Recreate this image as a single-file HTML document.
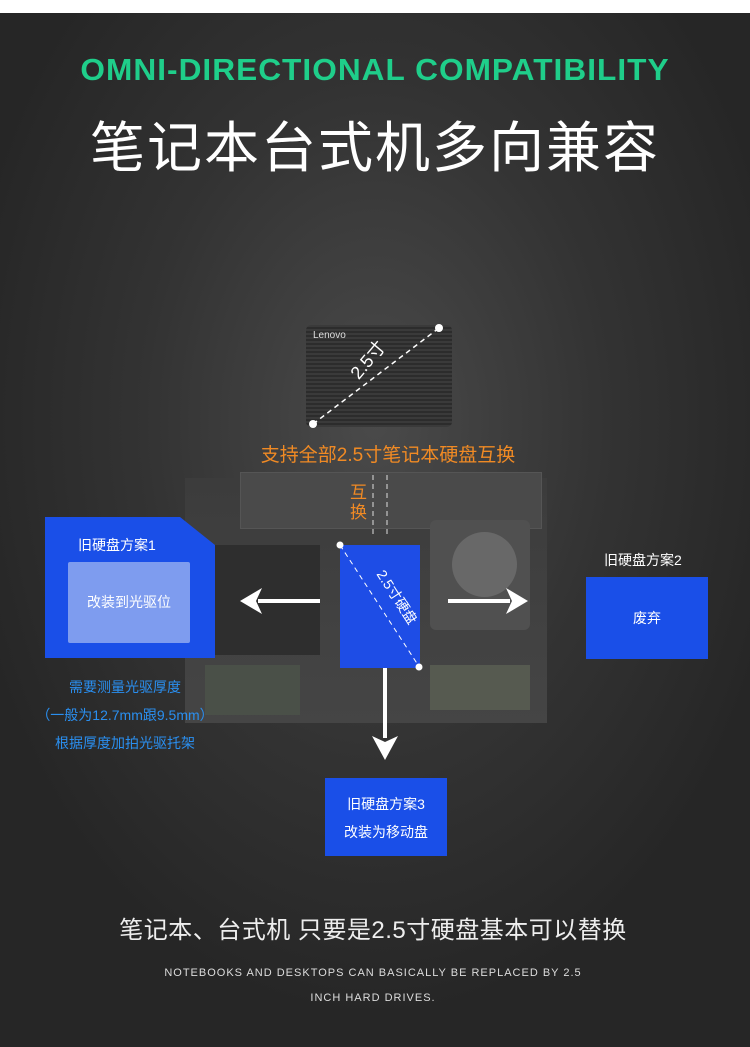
<!DOCTYPE html>
<html><head><meta charset="utf-8"><style>
body{margin:0;width:750px;height:1047px;overflow:hidden;background:#2a2a2a;font-family:"Liberation Sans","Noto Sans CJK SC",sans-serif;}
.wrap{position:relative;width:750px;height:1047px;background:radial-gradient(ellipse 420px 600px at 375px 420px,#4a4a4a 0%,#333 55%,#262626 100%);}
.top{position:absolute;left:0;top:0;width:750px;height:13px;background:#fff;}
.abs{position:absolute;}
.t{position:absolute;white-space:nowrap;}
.c{position:absolute;white-space:nowrap;width:200px;height:20px;line-height:20px;text-align:center;margin-left:-100px;margin-top:-10px;}
</style></head><body><div class="wrap">
<div class="top"></div>
<div class="t" style="left:0;width:750px;top:52px;text-align:center;color:#1fce8a;font-size:31px;font-weight:bold;letter-spacing:1px;transform:scaleX(1.02);">OMNI-DIRECTIONAL COMPATIBILITY</div>
<div class="t" style="left:0;width:750px;top:103px;text-align:center;color:#fff;font-size:55px;letter-spacing:2px;">笔记本台式机多向兼容</div>

<div class="abs" style="left:185px;top:478px;width:362px;height:245px;background:linear-gradient(#3c3c3c,#454545);"></div>
<div class="abs" style="left:240px;top:472px;width:300px;height:55px;background:#4a4a4a;border:1px solid #555;"></div>
<div class="abs" style="left:215px;top:545px;width:105px;height:110px;background:#2e2e2e;"></div>
<div class="abs" style="left:430px;top:520px;width:100px;height:110px;background:#505050;border-radius:6px;"></div>
<div class="abs" style="left:452px;top:532px;width:65px;height:65px;border-radius:50%;background:#686868;"></div>
<div class="abs" style="left:205px;top:665px;width:95px;height:50px;background:#4a5048;"></div>
<div class="abs" style="left:430px;top:665px;width:100px;height:45px;background:#565a50;"></div>

<div class="abs" style="left:306px;top:325px;width:146px;height:102px;border-radius:5px;background:repeating-linear-gradient(180deg,#3a3a3a 0 2px,#2c2c2c 2px 4px);"></div>
<div class="t" style="left:313px;top:330px;color:#ddd;font-size:10px;">Lenovo</div>
<svg class="abs" style="left:0;top:0" width="750" height="1047">
<line x1="313" y1="424" x2="439" y2="328" stroke="#fff" stroke-width="1.5" stroke-dasharray="5,4"/>
<circle cx="313" cy="424" r="4" fill="#fff"/><circle cx="439" cy="328" r="4" fill="#fff"/>
<line x1="373" y1="475" x2="373" y2="535" stroke="#ddd" stroke-dasharray="5,4"/>
<line x1="387" y1="475" x2="387" y2="535" stroke="#ddd" stroke-dasharray="5,4"/>
<polygon points="45,517 180,517 215,545 215,658 45,658" fill="#1a4fe8"/>
<rect x="340" y="545" width="80" height="123" fill="#1e4de6"/>
<line x1="340" y1="545" x2="420" y2="668" stroke="#fff" stroke-width="1" stroke-dasharray="5,4"/>
<circle cx="340" cy="545" r="3.5" fill="#fff"/><circle cx="419" cy="667" r="3.5" fill="#fff"/>
<line x1="320" y1="601" x2="258" y2="601" stroke="#fff" stroke-width="4"/>
<polygon points="240,601 262,588 256,601 262,614" fill="#fff"/>
<line x1="448" y1="601" x2="510" y2="601" stroke="#fff" stroke-width="4"/>
<polygon points="528,601 506,588 512,601 506,614" fill="#fff"/>
<line x1="385" y1="668" x2="385" y2="738" stroke="#fff" stroke-width="4"/>
<polygon points="385,760 372,736 385,742 398,736" fill="#fff"/>
</svg>
<div class="c" style="left:397px;top:597px;color:#fff;font-size:14px;transform:rotate(57deg);">2.5寸硬盘</div>
<div class="c" style="left:368px;top:360px;color:#fff;font-size:18px;transform:rotate(-50deg);">2.5寸</div>
<div class="t" style="left:0;width:776px;top:440px;text-align:center;color:#f08a24;font-size:19px;">支持全部2.5寸笔记本硬盘互换</div>
<div class="t" style="left:350px;top:483px;color:#f08a24;font-size:17px;line-height:20px;">互<br>换</div>

<div class="abs" style="left:68px;top:562px;width:122px;height:81px;background:#7e9cef;border-radius:2px;"></div>
<div class="t" style="left:78px;top:535px;color:#fff;font-size:14px;">旧硬盘方案1</div>
<div class="t" style="left:68px;width:122px;top:592px;text-align:center;color:#fff;font-size:14px;">改装到光驱位</div>
<div class="t" style="left:0;width:250px;top:673px;text-align:center;color:#2a8ff0;font-size:14px;line-height:28px;">需要测量光驱厚度<br>（一般为12.7mm跟9.5mm）<br>根据厚度加拍光驱托架</div>

<div class="t" style="left:604px;top:550px;color:#fff;font-size:14px;">旧硬盘方案2</div>
<div class="abs" style="left:586px;top:577px;width:122px;height:82px;background:#1a4fe8;"></div>
<div class="t" style="left:586px;width:122px;top:608px;text-align:center;color:#fff;font-size:14px;">废弃</div>

<div class="abs" style="left:325px;top:778px;width:122px;height:78px;background:#1a4fe8;"></div>
<div class="t" style="left:325px;width:122px;top:790px;text-align:center;color:#fff;font-size:14px;line-height:28px;">旧硬盘方案3<br>改装为移动盘</div>

<div class="t" style="left:0;width:746px;top:910px;text-align:center;color:#eee;font-size:24px;letter-spacing:0.5px;">笔记本、台式机 只要是2.5寸硬盘基本可以替换</div>
<div class="t" style="left:0;width:746px;top:961px;text-align:center;color:#ddd;font-size:11px;line-height:25px;letter-spacing:1px;">NOTEBOOKS AND DESKTOPS CAN BASICALLY BE REPLACED BY 2.5<br>INCH HARD DRIVES.</div>
</div></body></html>
